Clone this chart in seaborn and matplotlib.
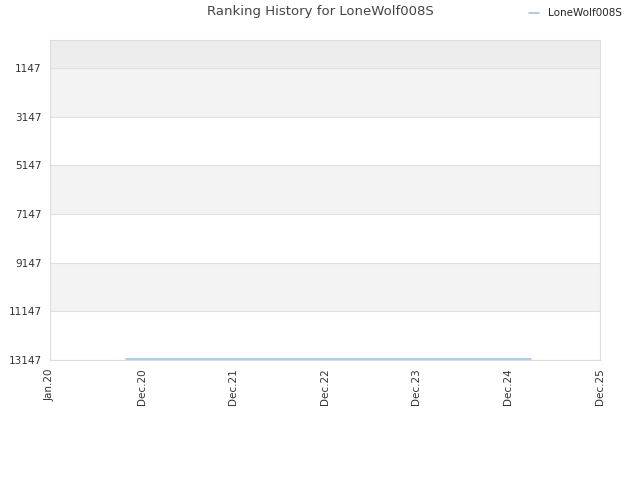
import pandas as pd
import matplotlib
matplotlib.use("Agg")
import matplotlib.pyplot as plt
import seaborn as sns

# ranking data
dates = ["2020-10-29", "2021-12-31", "2022-12-31", "2023-12-31", "2025-04-01"]
ranks = [13100, 13100, 13100, 13100, 13100]
player = "LoneWolf008S"

tick_vals = [1147, 3147, 5147, 7147, 9147, 11147, 13147]
x_ticks = ["2020-01-01", "2020-12-31", "2021-12-31", "2022-12-31",
           "2023-12-31", "2024-12-31", "2025-12-31"]
x_labels = ["Jan.20", "Dec.20", "Dec.21", "Dec.22", "Dec.23", "Dec.24", "Dec.25"]

df = pd.DataFrame({"date": pd.to_datetime(dates), "rank": ranks, "player": player})

sns.set_style("white")
plt.rcParams["font.family"] = ["DejaVu Sans"]

fig = plt.figure(figsize=(6.4, 4.8), dpi=100)
ax = fig.add_axes([50 / 640, 1 - 360 / 480, 550 / 640, 320 / 480])

# shaded bands
ax.axhspan(0, tick_vals[0], color="#ededed", zorder=0, lw=0)
for i in range(0, len(tick_vals) - 1, 2):
    ax.axhspan(tick_vals[i], tick_vals[i + 1], color="#f3f3f3", zorder=0, lw=0)
for v in tick_vals:
    ax.axhline(v, color="#e0e0e0", lw=0.8, zorder=1)

sns.lineplot(data=df, x="date", y="rank", hue="player", palette=["#9fc5e8"],
             linewidth=1.2, ax=ax, zorder=3)

ax.set_ylim(13147, 0)
ax.set_yticks(tick_vals)
ax.set_yticklabels([str(v) for v in tick_vals], fontsize=7.5, color="#333333")
xt = pd.to_datetime(x_ticks)
ax.set_xlim(xt[0], xt[-1])
ax.set_xticks(xt)
ax.set_xticklabels(x_labels, rotation=90, fontsize=7.5, color="#333333")
ax.tick_params(length=0, pad=6)
ax.set_xlabel("")
ax.set_ylabel("")
for s in ax.spines.values():
    s.set_color("#dddddd")
    s.set_linewidth(0.8)

ax.legend(loc="upper right", bbox_to_anchor=((626 - 50) / 550, (360 - 4) / 320),
          frameon=False, fontsize=7.5, handlelength=1.0, handletextpad=0.8,
          borderaxespad=0)
fig.text(320 / 640, 1 - 12 / 480, "Ranking History for LoneWolf008S",
         ha="center", va="center", fontsize=9.5, color="#444444")

fig.savefig("out.png", dpi=100)
